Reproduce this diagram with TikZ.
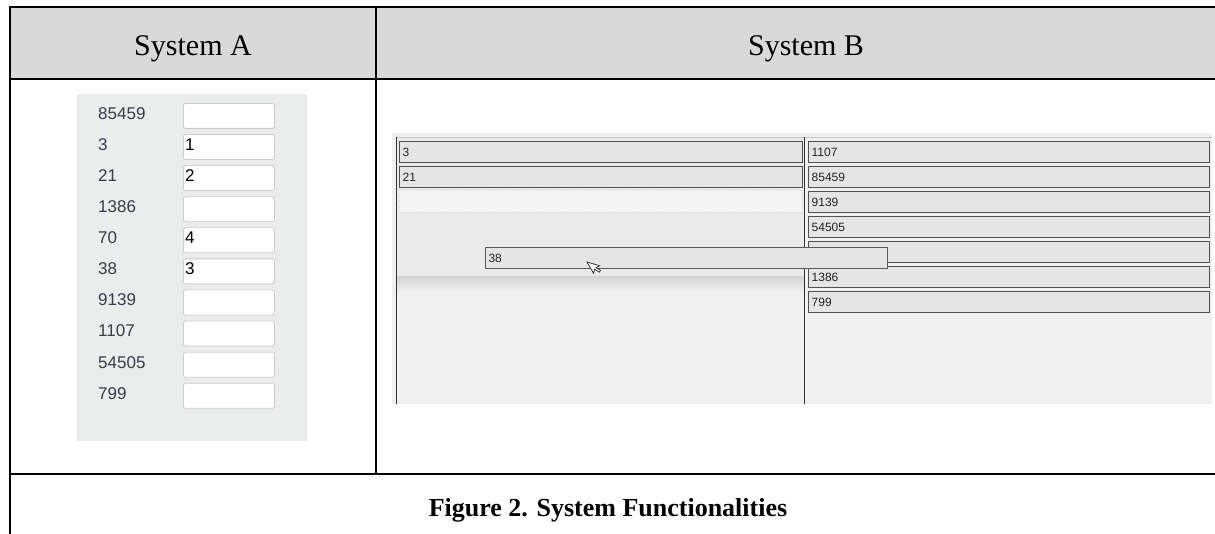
\documentclass[tikz,border=0pt]{standalone}
\usepackage{fontspec}
\setmainfont{Liberation Serif}
\newfontfamily\arialf{Liberation Sans}
\definecolor{hdr}{HTML}{D9D9D9}
\definecolor{panelA}{HTML}{EBECEC}
\definecolor{lbl}{HTML}{3A3A4C}
\definecolor{boxbd}{HTML}{CDCDCD}
\definecolor{panelB}{HTML}{F0F0F0}
\definecolor{listtop}{HTML}{EAEAEA}
\definecolor{itemfill}{HTML}{E5E5E5}
\definecolor{itembd}{HTML}{505050}
\definecolor{itemtxt}{HTML}{222222}
\begin{document}
\begin{tikzpicture}[x=1pt,y=-1pt,
  tbl/.style={line width=2.2pt, black, line cap=rect},
  hdrtext/.style={font=\fontsize{30}{36}\selectfont, anchor=base, inner sep=0},
  lbltext/.style={font=\arialf\fontsize{17}{20}\selectfont, text=lbl, anchor=base west, inner sep=0},
  valtext/.style={font=\arialf\fontsize{17}{20}\selectfont, text=black, anchor=base west, inner sep=0},
  inbox/.style={draw=boxbd, fill=white, rounded corners=1.5pt, line width=0.8pt, minimum width=91pt, minimum height=25pt, anchor=north west, inner sep=0},
  item/.style={draw=itembd, fill=itemfill, line width=1.3pt, minimum height=21pt, anchor=north west, inner xsep=3pt, inner ysep=0pt, align=left, font=\arialf\fontsize{12}{14}\selectfont, text=itemtxt},
  litem/.style={item, text width=397pt},
  ritem/.style={item, text width=395pt}
]
\useasboundingbox (0,0) rectangle (1215,534);
\fill[white] (0,0) rectangle (1215,534);

% header row
\fill[hdr] (10,7) rectangle (1215,79);
\node[hdrtext] (hA) at (193,56) {System A};
\node[hdrtext] (hB) at (806,56) {System B};

% ---------- System A panel ----------
\fill[panelA] (77,94) rectangle (307,441);
\foreach \lab/\val [count=\i from 0] in {85459/,3/1,21/2,1386/,70/4,38/3,9139/,1107/,54505/,799/}{
  \pgfmathsetmacro{\ty}{103+31.1*\i}
  \node[inbox] (box\i) at (183,\ty) {};
  \node[lbltext] (lab\i) at (98,\ty+16.3) {\lab};
  \node[valtext] (val\i) at (185,\ty+16.3) {\val};
}

% ---------- System B panel ----------
\fill[panelB] (392,133) rectangle (1212,404);
\fill[listtop] (397,137) rectangle (804,277);
\shade[top color=listtop!90!black!95, bottom color=panelB] (397,277) rectangle (804,291);
\draw[line width=0.8pt, black!22] (396,137) -- (1212,137);
\draw[line width=1.6pt, black!80] (396.5,137) -- (396.5,404);
\draw[line width=1.6pt, black!80] (804.5,137) -- (804.5,404);

% left list
\node[litem] (l0) at (399,141) {3};
\node[litem] (l1) at (399,166) {21};
\node[draw=black!15, dotted, fill=black!4, minimum width=403pt, minimum height=22pt, anchor=north west, inner sep=0] (lph) at (399,190) {};

% right list
\foreach \t [count=\i from 0] in {1107,85459,9139,54505,70,1386,799}{
  \node[ritem] (r\i) at (808,141+25*\i) {\t};
}

% dragged item
\node[item, text width=396pt, line width=1.1pt, draw=black!65] (drag) at (485,247) {38};

% cursor
\begin{scope}[shift={(587,262)}, rotate=30]
  \draw[fill=white, draw=black!85, line width=0.7pt, line join=miter] (0,0) -- (0,13) -- (3,10) -- (5.5,15) -- (7.5,14) -- (5,9.5) -- (9,9.5) -- cycle;
\end{scope}

% table lines
\draw[tbl] (10,7) -- (1215,7);
\draw[tbl] (10,79) -- (1215,79);
\draw[tbl] (10,474) -- (1215,474);
\draw[tbl] (10,7) -- (10,534);
\draw[tbl] (376,7) -- (376,474);

% caption
\node[font=\bfseries\fontsize{26}{30}\selectfont, anchor=base, inner sep=0] (cap) at (608,516) {Figure 2. System Functionalities};
\end{tikzpicture}
\end{document}
